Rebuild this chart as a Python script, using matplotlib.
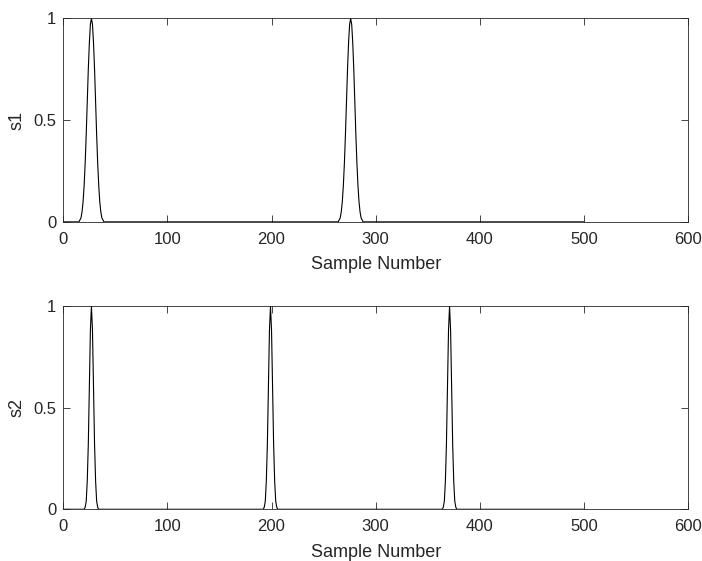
import numpy as np
import matplotlib
matplotlib.use("Agg")
import matplotlib.pyplot as plt

plt.rcParams['font.family'] = ['Liberation Sans', 'DejaVu Sans']

# samples 1..500
n_samples = 500
s1_centers = [27, 276]
s2_centers = [27, 199, 371]
# half of each pulse (offset 0 .. edge), mirrored below
s1_half = [1.0, 0.97, 0.88, 0.75, 0.59, 0.43, 0.29, 0.18, 0.10, 0.05, 0.02, 0.01]
s2_half = [1.0, 0.88, 0.61, 0.32, 0.14, 0.04, 0.01]
xticks = [0, 100, 200, 300, 400, 500, 600]
yticks = [0, 0.5, 1]
yticklabels = ['0', '0.5', '1']


def build(centers, half):
    y = np.zeros(n_samples)
    shape = np.array(half[:0:-1] + half)
    k = len(half) - 1
    for c in centers:
        idx = np.arange(c - k, c + k + 1) - 1
        y[idx] = np.maximum(y[idx], shape)
    return y


x = np.arange(1, n_samples + 1)
s1 = build(s1_centers, s1_half)
s2 = build(s2_centers, s2_half)

fig = plt.figure(figsize=(7.02, 5.61), dpi=100)
ax1 = fig.add_axes([0.0902, 0.6045, 0.8898, 0.3629])
ax2 = fig.add_axes([0.0902, 0.0922, 0.8898, 0.3623])

grey = '#262626'
for ax, y, name in [(ax1, s1, 's1'), (ax2, s2, 's2')]:
    ax.plot(x, y, color='black', linewidth=0.8)
    ax.set_xlim(0, 600)
    ax.set_ylim(0, 1)
    ax.set_xticks(xticks)
    ax.set_yticks(yticks)
    ax.set_yticklabels(yticklabels)
    ax.tick_params(direction='in', top=True, right=True, length=5,
                   width=0.6, colors=grey, labelsize=12)
    ax.tick_params(axis='x', pad=7)
    ax.tick_params(axis='y', pad=5)
    for sp in ax.spines.values():
        sp.set_color(grey)
        sp.set_linewidth(0.6)
    ax.set_xlabel('Sample Number', fontsize=13, color=grey, labelpad=7)
    ax.set_ylabel(name, fontsize=13, color=grey, labelpad=6)

fig.savefig('out.png', dpi=100)
